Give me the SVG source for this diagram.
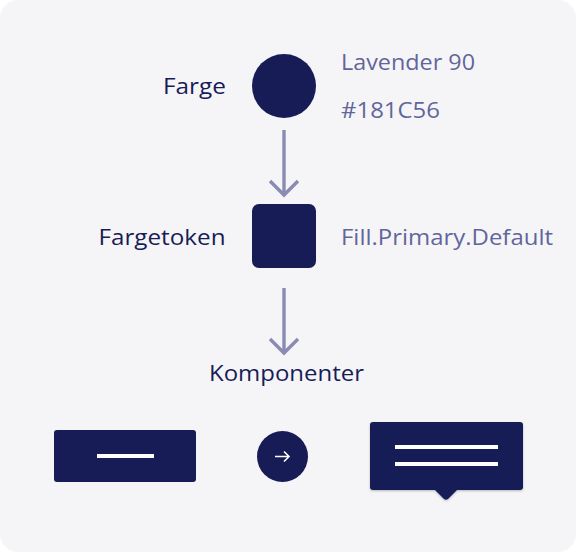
<svg xmlns="http://www.w3.org/2000/svg" width="576" height="552" viewBox="0 0 576 552">
<defs>
<style>
.lbl{font-family:"Open Sans","Noto Sans",sans-serif;font-size:21.5px;fill:#181C56}
.sub{font-family:"Open Sans","Noto Sans",sans-serif;font-size:21.5px;fill:#62659A}
.dark{fill:#181C56}
.conn{stroke:#8A8AB4;stroke-width:3.4;fill:none;stroke-linecap:butt;stroke-linejoin:miter}
.wl{stroke:#FFFFFF;stroke-width:4;fill:none}
</style>
<filter id="sh" x="-10%" y="-10%" width="120%" height="130%">
<feDropShadow dx="0" dy="1" stdDeviation="1.2" flood-color="#000" flood-opacity="0.25"/>
</filter>
</defs>
<rect x="0" y="0" width="576" height="552" fill="#FFFFFF"/>
<rect x="0" y="0" width="576" height="552" rx="18" fill="#F5F5F8"/>
<g id="farge">
<text class="lbl" x="163" y="94" textLength="63" lengthAdjust="spacingAndGlyphs">Farge</text>
<circle class="dark" cx="284" cy="86" r="32"/>
<text class="sub" x="341" y="70" textLength="134" lengthAdjust="spacingAndGlyphs">Lavender 90</text>
<text class="sub" x="341" y="118" textLength="99" lengthAdjust="spacingAndGlyphs">#181C56</text>
</g>
<g id="fargetoken">
<text class="lbl" x="98.5" y="245" textLength="127" lengthAdjust="spacingAndGlyphs">Fargetoken</text>
<rect class="dark" x="252" y="204" width="64" height="64" rx="7"/>
<text class="sub" x="341" y="245" textLength="212" lengthAdjust="spacingAndGlyphs">Fill.Primary.Default</text>
</g>
<g id="komponenter">
<text class="lbl" x="209" y="381" textLength="155" lengthAdjust="spacingAndGlyphs">Komponenter</text>
<rect class="dark" x="54" y="430" width="142" height="52" rx="3"/>
<line class="wl" x1="97" y1="456" x2="154" y2="456"/>
<circle class="dark" cx="282.5" cy="456.5" r="25.5"/>
<path d="M275 456.5 H289 M284 451.5 L289 456.5 L284 461.5" stroke="#FFFFFF" stroke-width="1.6" fill="none"/>
<g filter="url(#sh)">
<path class="dark" d="M373 422 H520 A3 3 0 0 1 523 425 V487 A3 3 0 0 1 520 490 H457 L448 499 Q446 500.5 444 499 L435 490 H373 A3 3 0 0 1 370 487 V425 A3 3 0 0 1 373 422 Z"/>
</g>
<line class="wl" x1="395" y1="447" x2="498" y2="447"/>
<line class="wl" x1="395" y1="464" x2="498" y2="464"/>
</g>
<g id="connectors">
<path class="conn" d="M284 130 V194 M270 181 L284 195 L298 181"/>
<path class="conn" d="M284 288 V352 M270 339 L284 353 L298 339"/>
</g>
</svg>
